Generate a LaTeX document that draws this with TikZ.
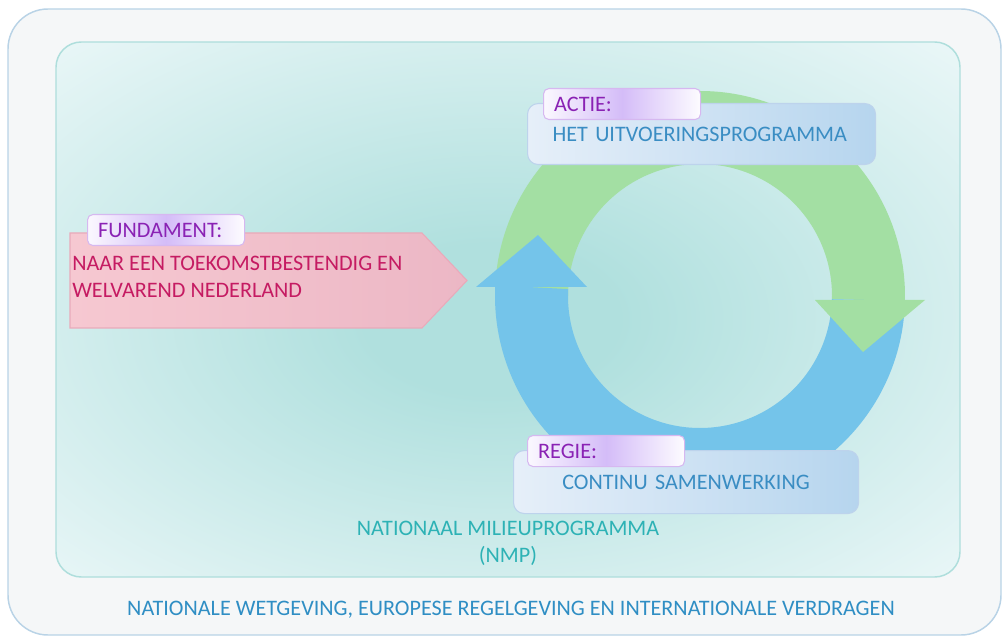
\documentclass[tikz,border=0pt]{standalone}
\usepackage{fontspec}
\setmainfont{Carlito}
\usetikzlibrary{positioning}

\definecolor{framefill}{HTML}{F5F7F8}
\definecolor{frameedge}{HTML}{B9D3E6}
\definecolor{paneledge}{HTML}{AEDEDC}
\definecolor{glowcore}{HTML}{B0E0DE}
\definecolor{glowrim}{HTML}{F2FAFB}
\definecolor{ringgreen}{HTML}{A3DFA3}
\definecolor{ringblue}{HTML}{74C4EA}
\definecolor{planleft}{HTML}{E6EFF9}
\definecolor{planright}{HTML}{B6D5EE}
\definecolor{planedge}{HTML}{BDD3EC}
\definecolor{plantext}{HTML}{3A8DC3}
\definecolor{tabglow}{HTML}{D4BCF8}
\definecolor{tabedge}{HTML}{D6B8F0}
\definecolor{tabtext}{HTML}{8A22B4}
\definecolor{fundleft}{HTML}{F6C8D1}
\definecolor{fundright}{HTML}{ECB7C5}
\definecolor{fundedge}{HTML}{E9AABA}
\definecolor{fundtext}{HTML}{C51B62}
\definecolor{nmptext}{HTML}{2DB2B5}
\definecolor{lawtext}{HTML}{2F8EC4}

\pgfdeclareradialshading{panelglow}{\pgfpoint{-1bp}{-1bp}}{color(0bp)=(glowcore); color(7bp)=(glowcore); color(40bp)=(glowrim); color(80bp)=(glowrim)}

\begin{document}
\begin{tikzpicture}[x=0.75pt, y=0.75pt,
    bodyfont/.style={font=\fontsize{16.6}{20.25}\selectfont},
    planbox/.style={bodyfont, draw=planedge, line width=0.8pt, rounded corners=8pt,
        left color=planleft, right color=planright, text=plantext, anchor=north west},
    tabbox/.style={bodyfont, draw=tabedge, line width=0.8pt, rounded corners=4pt,
        left color=white!90!tabglow, right color=white!95!tabglow, middle color=tabglow,
        text=tabtext, anchor=north west, inner xsep=8pt, text width=101.75pt,
        minimum height=23.25pt, align=left},
    plaintext/.style={bodyfont, inner sep=0pt}]
    \useasboundingbox (0,0) rectangle (1003,636);
    % outer frame
    \filldraw[fill=framefill, draw=frameedge, line width=1.1pt, rounded corners=30pt] (8,1) rectangle (1001,627);
    % NMP panel
    \shadedraw[shading=panelglow, draw=paneledge, line width=1.1pt, rounded corners=19pt] (56,59) rectangle (960,594);
    % ring
    \coordinate (hub) at (700,340);
    \begin{scope}[shift={(hub)}]
        % green band
        \fill[ringgreen] (180:205) arc[start angle=180, end angle=-1.4, radius=205]
            -- (-1.4:132) arc[start angle=-1.4, end angle=180, radius=132] -- cycle;
        % blue band + head
        \fill[ringblue] (-1.4:205) arc[start angle=-1.4, end angle=-183, radius=205]
            -- (-183:132) arc[start angle=-183, end angle=-1.4, radius=132] -- cycle;
        \fill[ringblue] (-224,9) -- (-162,61) -- (-113,9) -- cycle;
        % green head
        \fill[ringgreen] (115,-4) -- (163,-56) -- (225,-4) -- cycle;
    \end{scope}
    % FUNDAMENT arrow
    \draw[draw=fundedge, line width=0.8pt, left color=fundleft, right color=fundright]
        (70,403) -- (422,403) -- (467,355.5) -- (422,308) -- (70,308) -- cycle;
    \coordinate (fundnw) at (70,403);
    \node[plaintext, text=fundtext, align=left, anchor=west] (fundament) at (72,359.5)
        {NAAR EEN TOEKOMSTBESTENDIG EN\\WELVAREND NEDERLAND};
    \node[tabbox] (fundtab) at ([xshift=12.75pt, yshift=14.25pt]fundnw) {FUNDAMENT:};
    % ACTIE
    \node[planbox, minimum height=45.75pt, inner xsep=18.75pt, text width=223.5pt, align=left]
        (actie) at (527,533) {HET UITVOERINGSPROGRAMMA};
    \node[tabbox] (actietab) at ([xshift=12pt, yshift=11.25pt]actie.north west) {ACTIE:};
    % REGIE
    \node[planbox, minimum height=47.25pt, inner xsep=10pt, text width=238.75pt, align=center]
        (regie) at (513,186) {CONTINU SAMENWERKING};
    \node[tabbox] (regietab) at ([xshift=10.5pt, yshift=11.25pt]regie.north west) {REGIE:};
    % labels
    \node[plaintext, text=nmptext, align=center] (nmp) at (508,92.5) {NATIONAAL MILIEUPROGRAMMA\\(NMP)};
    \node[plaintext, text=lawtext] (wetgeving) at (511,26)
        {NATIONALE WETGEVING, EUROPESE REGELGEVING EN INTERNATIONALE VERDRAGEN};
\end{tikzpicture}
\end{document}
